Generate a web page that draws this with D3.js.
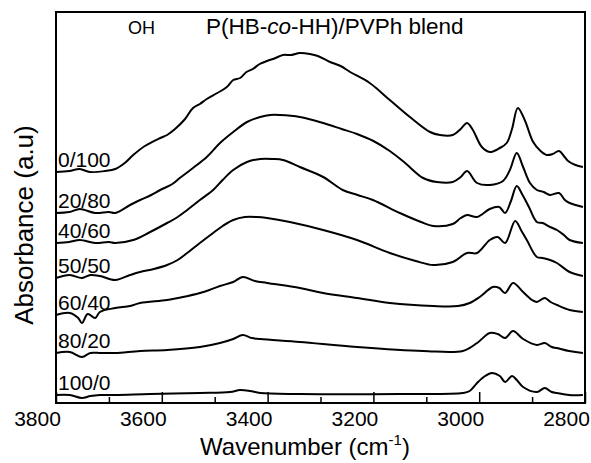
<!DOCTYPE html>
<html>
<head>
<meta charset="utf-8">
<script src="https://cdn.jsdelivr.net/npm/d3@7"></script>
<style>
  body { margin: 0; background: #fff; }
  text { font-family: "Liberation Sans", Arial, sans-serif; fill: #000; }
</style>
</head>
<body>
<svg width="591" height="463"></svg>
<script>
"use strict";

// 스펙트럼 데이터: [wavenumber (cm-1), absorbance (a.u.)] - 그림에서 읽어낸 값
const spec0_100 = [
  [3800, 2.31], [3775, 2.32], [3755, 2.34], [3736, 2.31], [3707, 2.32], [3688, 2.34],
  [3670, 2.40], [3654, 2.48], [3632, 2.57], [3603, 2.65], [3590, 2.68], [3575, 2.74],
  [3556, 2.84], [3541, 2.95], [3528, 2.99], [3515, 3.04], [3495, 3.10], [3477, 3.16],
  [3465, 3.23], [3452, 3.25], [3440, 3.31], [3428, 3.34], [3415, 3.39], [3401, 3.42],
  [3385, 3.45], [3371, 3.48], [3355, 3.48], [3339, 3.50], [3320, 3.49], [3305, 3.47],
  [3282, 3.41], [3262, 3.37], [3244, 3.31], [3207, 3.20], [3169, 3.03], [3131, 2.86],
  [3093, 2.71], [3074, 2.68], [3050, 2.68], [3035, 2.74], [3023, 2.80], [3012, 2.73],
  [2995, 2.56], [2980, 2.51], [2961, 2.55], [2948, 2.60], [2938, 2.74], [2927, 2.95],
  [2914, 2.83], [2898, 2.61], [2884, 2.52], [2872, 2.48], [2861, 2.49], [2849, 2.52],
  [2840, 2.47], [2832, 2.42], [2818, 2.38], [2804, 2.36]
];
const spec20_80 = [
  [3800, 1.90], [3775, 1.91], [3755, 1.94], [3726, 1.90], [3700, 1.91], [3688, 1.90],
  [3660, 1.98], [3641, 2.03], [3620, 2.08], [3603, 2.13], [3580, 2.19], [3566, 2.25],
  [3541, 2.35], [3515, 2.46], [3490, 2.60], [3465, 2.71], [3439, 2.81], [3414, 2.86],
  [3395, 2.88], [3377, 2.88], [3339, 2.86], [3295, 2.80], [3260, 2.74], [3231, 2.69],
  [3200, 2.62], [3169, 2.52], [3140, 2.40], [3106, 2.25], [3080, 2.21], [3050, 2.21],
  [3035, 2.26], [3023, 2.32], [3004, 2.20], [2980, 2.18], [2955, 2.22], [2942, 2.33],
  [2929, 2.50], [2917, 2.36], [2904, 2.20], [2891, 2.13], [2878, 2.11], [2866, 2.08],
  [2849, 2.10], [2838, 2.03], [2829, 2.00], [2804, 1.96]
];
const spec40_60 = [
  [3800, 1.60], [3775, 1.61], [3755, 1.63], [3726, 1.60], [3700, 1.61], [3688, 1.60],
  [3654, 1.63], [3622, 1.71], [3590, 1.80], [3570, 1.86], [3552, 1.93], [3528, 2.03],
  [3503, 2.13], [3485, 2.23], [3465, 2.33], [3439, 2.41], [3414, 2.44], [3390, 2.44],
  [3371, 2.43], [3339, 2.36], [3295, 2.26], [3258, 2.13], [3230, 2.08], [3201, 2.03],
  [3150, 1.90], [3110, 1.81], [3087, 1.77], [3050, 1.79], [3035, 1.85], [3023, 1.88],
  [3004, 1.86], [2980, 1.94], [2962, 1.96], [2951, 1.90], [2940, 2.02], [2929, 2.17],
  [2918, 2.08], [2906, 1.96], [2891, 1.81], [2880, 1.80], [2866, 1.76], [2853, 1.73],
  [2840, 1.68], [2829, 1.63], [2804, 1.60]
];
const spec50_50 = [
  [3800, 1.25], [3774, 1.28], [3751, 1.25], [3735, 1.28], [3717, 1.27], [3688, 1.23],
  [3660, 1.28], [3641, 1.31], [3615, 1.34], [3590, 1.38], [3570, 1.43], [3552, 1.50],
  [3528, 1.60], [3503, 1.70], [3485, 1.77], [3465, 1.83], [3443, 1.86], [3420, 1.86],
  [3401, 1.85], [3358, 1.81], [3295, 1.73], [3231, 1.63], [3169, 1.50], [3120, 1.42],
  [3087, 1.38], [3050, 1.41], [3023, 1.50], [3004, 1.50], [2980, 1.63], [2965, 1.66],
  [2951, 1.60], [2932, 1.82], [2920, 1.72], [2910, 1.63], [2891, 1.46], [2880, 1.45],
  [2866, 1.43], [2853, 1.40], [2829, 1.31], [2804, 1.27]
];
const spec60_40 = [
  [3800, 0.88], [3774, 0.90], [3758, 0.85], [3751, 0.80], [3740, 0.89], [3726, 0.85],
  [3717, 0.91], [3688, 0.95], [3660, 0.97], [3641, 1.00], [3590, 1.03], [3560, 1.06],
  [3528, 1.10], [3510, 1.13], [3490, 1.17], [3465, 1.21], [3447, 1.26], [3424, 1.22],
  [3401, 1.20], [3339, 1.15], [3295, 1.10], [3231, 1.05], [3169, 1.00], [3087, 0.97],
  [3040, 0.97], [3018, 1.00], [2999, 1.06], [2974, 1.16], [2962, 1.15], [2951, 1.10],
  [2936, 1.20], [2917, 1.11], [2900, 1.03], [2891, 1.01], [2876, 1.05], [2865, 1.01],
  [2853, 0.98], [2829, 0.93], [2804, 0.91]
];
const spec80_20 = [
  [3800, 0.50], [3774, 0.51], [3751, 0.46], [3735, 0.50], [3717, 0.50], [3688, 0.50],
  [3641, 0.52], [3590, 0.53], [3528, 0.56], [3490, 0.60], [3465, 0.64], [3447, 0.68],
  [3430, 0.65], [3414, 0.64], [3339, 0.61], [3231, 0.56], [3106, 0.52], [3031, 0.52],
  [3004, 0.60], [2980, 0.70], [2965, 0.69], [2951, 0.65], [2936, 0.72], [2917, 0.64],
  [2891, 0.58], [2876, 0.60], [2863, 0.56], [2853, 0.55], [2830, 0.52], [2804, 0.50]
];
const spec100_0 = [
  [3800, 0.08], [3774, 0.08], [3751, 0.05], [3735, 0.07], [3717, 0.08], [3688, 0.08],
  [3622, 0.09], [3528, 0.10], [3471, 0.11], [3452, 0.13], [3433, 0.12], [3414, 0.10],
  [3339, 0.09], [3150, 0.09], [3031, 0.10], [3018, 0.12], [3004, 0.20], [2989, 0.27],
  [2976, 0.30], [2961, 0.27], [2951, 0.21], [2938, 0.27], [2929, 0.23], [2917, 0.16],
  [2891, 0.11], [2876, 0.15], [2863, 0.11], [2853, 0.10], [2830, 0.08], [2804, 0.08]
];

const spectra = [spec0_100, spec20_80, spec40_60, spec50_50, spec60_40, spec80_20, spec100_0];
const blendLabels = ["0/100", "20/80", "40/60", "50/50", "60/40", "80/20", "100/0"];
const majorTicks = [3800, 3600, 3400, 3200, 3000, 2800];
const minorTicks = [3700, 3500, 3300, 3100, 2900];

const svg = d3.select("svg");
const plot = { left: 56, right: 585, top: 12, bottom: 403 };

// x축은 파수가 큰 쪽이 왼쪽 (역방향)
const xScale = d3.scaleLinear().domain([3800, 2800]).range([plot.left, plot.right]);
const yScale = d3.scaleLinear().domain([0, 3.91]).range([plot.bottom, plot.top]);

// 스펙트럼 선 생성기
const specLine = d3
  .line()
  .x((d) => xScale(d[0]))
  .y((d) => yScale(d[1]))
  .curve(d3.curveCatmullRom.alpha(0.5));

svg
  .selectAll("path.spec")
  .data(spectra)
  .enter()
  .append("path")
  .attr("class", "spec")
  .attr("d", (d) => specLine(d))
  .attr("fill", "none")
  .attr("stroke", "#000")
  .attr("stroke-width", 2)
  .attr("stroke-linejoin", "round");

// 각 곡선 왼쪽 위에 조성 라벨
svg
  .selectAll("text.blend")
  .data(spectra)
  .enter()
  .append("text")
  .attr("class", "blend")
  .attr("x", plot.left + 2)
  .attr("y", (d) => yScale(d[0][1]) - 5)
  .style("font-size", "21px")
  .text((d, i) => blendLabels[i]);

// 아래쪽 눈금 (안쪽으로 향함), 라벨은 원본처럼 왼쪽으로 살짝 밀려 있음
const xAxis = d3
  .axisBottom(xScale)
  .tickValues(majorTicks)
  .tickSizeInner(-11)
  .tickSizeOuter(0)
  .tickPadding(8)
  .tickFormat(d3.format("d"));

const xAxisG = svg
  .append("g")
  .attr("transform", `translate(0,${plot.bottom})`)
  .call(xAxis);
xAxisG.select(".domain").remove();
xAxisG.selectAll("line").attr("stroke", "#000").attr("stroke-width", 1.5);
xAxisG
  .selectAll("text")
  .attr("x", -19)
  .style("font-size", "21px")
  .style("font-family", '"Liberation Sans", Arial, sans-serif')
  .attr("fill", "#000");

const xMinor = d3.axisBottom(xScale).tickValues(minorTicks).tickSizeInner(-6).tickSizeOuter(0).tickFormat("");
const xMinorG = svg.append("g").attr("transform", `translate(0,${plot.bottom})`).call(xMinor);
xMinorG.select(".domain").remove();
xMinorG.selectAll("line").attr("stroke", "#000").attr("stroke-width", 1.5);

// 테두리 박스
svg
  .append("rect")
  .attr("x", plot.left)
  .attr("y", plot.top)
  .attr("width", plot.right - plot.left)
  .attr("height", plot.bottom - plot.top)
  .attr("fill", "none")
  .attr("stroke", "#000")
  .attr("stroke-width", 2);

// 제목 및 OH 표시
svg.append("text").attr("x", 128).attr("y", 34).style("font-size", "18px").text("OH");

const title = svg.append("text").attr("x", 206).attr("y", 34).style("font-size", "22.5px");
title.append("tspan").text("P(HB-");
title.append("tspan").style("font-style", "italic").text("co");
title.append("tspan").text("-HH)/PVPh blend");

// 축 제목
const xTitle = svg
  .append("text")
  .attr("x", 305)
  .attr("y", 455)
  .attr("text-anchor", "middle")
  .style("font-size", "24px");
xTitle.append("tspan").text("Wavenumber (cm");
xTitle.append("tspan").attr("dy", -10).style("font-size", "15px").text("-1");
xTitle.append("tspan").attr("dy", 10).text(")");

svg
  .append("text")
  .attr("transform", "translate(33,225) rotate(-90)")
  .attr("text-anchor", "middle")
  .style("font-size", "26px")
  .text("Absorbance (a.u)");
</script>
</body>
</html>
